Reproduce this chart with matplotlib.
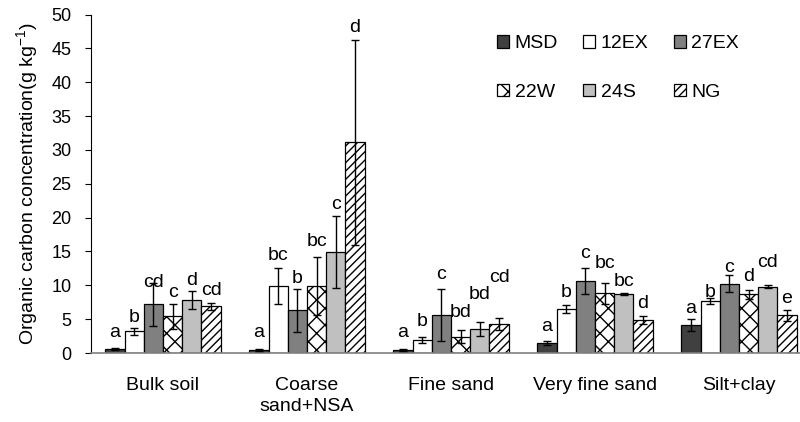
import numpy as np
import matplotlib
matplotlib.use('Agg')
import matplotlib.pyplot as plt

plt.rcParams['font.family'] = ['Liberation Sans', 'DejaVu Sans']
plt.rcParams['mathtext.fontset'] = 'custom'
plt.rcParams['mathtext.rm'] = 'Liberation Sans'
plt.rcParams['mathtext.it'] = 'Liberation Sans:italic'

categories = ['Bulk soil', 'Coarse\nsand+NSA', 'Fine sand', 'Very fine sand', 'Silt+clay']
series = ['MSD', '12EX', '27EX', '22W', '24S', 'NG']

# mean values per series, one entry per category
means = {
    'MSD':  [0.6, 0.5, 0.45, 1.45, 4.1],
    '12EX': [3.2, 9.9, 1.95, 6.5, 7.7],
    '27EX': [7.2, 6.3, 5.6, 10.6, 10.2],
    '22W':  [5.4, 9.9, 2.4, 8.8, 8.7],
    '24S':  [7.8, 14.9, 3.5, 8.7, 9.8],
    'NG':   [6.9, 31.1, 4.3, 4.9, 5.55],
}
errs = {
    'MSD':  [0.1, 0.15, 0.1, 0.3, 0.9],
    '12EX': [0.5, 2.7, 0.4, 0.6, 0.45],
    '27EX': [3.2, 3.2, 3.8, 1.9, 1.25],
    '22W':  [1.8, 4.3, 0.95, 1.5, 0.65],
    '24S':  [1.3, 5.3, 1.05, 0.15, 0.25],
    'NG':   [0.55, 15.2, 0.9, 0.6, 0.8],
}
letters = {
    'MSD':  ['a', 'a', 'a', 'a', 'a'],
    '12EX': ['b', 'bc', 'b', 'b', 'b'],
    '27EX': ['cd', 'b', 'c', 'c', 'c'],
    '22W':  ['c', 'bc', 'bd', 'bc', 'd'],
    '24S':  ['d', 'c', 'bd', 'bc', 'cd'],
    'NG':   ['cd', 'd', 'cd', 'd', 'e'],
}
# baseline height of each significance letter
letter_y = {
    'MSD':  [2.4, 2.4, 2.3, 3.3, 5.9],
    '12EX': [4.6, 13.8, 4.0, 8.3, 8.3],
    '27EX': [9.8, 10.3, 10.9, 14.0, 12.0],
    '22W':  [8.3, 15.8, 5.3, 12.6, 10.6],
    '24S':  [10.0, 21.3, 8.0, 9.9, 12.7],
    'NG':   [8.55, 47.4, 10.5, 6.7, 7.4],
}

colors = ['#404040', 'white', '#808080', 'white', '#c0c0c0', 'white']
hatches = [None, None, None, 'xx', None, '////']

fig = plt.figure(figsize=(8, 4.22), dpi=100)
ax = fig.add_axes([91 / 800, 69 / 422, 720 / 800, 338.5 / 422])

x = np.arange(len(categories))
w = 0.8 / len(series)
handles = []
for i, s in enumerate(series):
    pos = x - 0.4 + w * (i + 0.5)
    b = ax.bar(pos, means[s], w, color=colors[i], edgecolor='black', linewidth=0.9,
               hatch=hatches[i], label=s, zorder=2)
    handles.append(b)
    ax.errorbar(pos, means[s], yerr=errs[s], fmt='none', ecolor='black',
                elinewidth=1, capsize=3, capthick=1, zorder=3)
    for j in range(len(categories)):
        ax.text(pos[j], letter_y[s][j], letters[s][j], ha='center', va='baseline',
                fontsize=14)

ax.set_xlim(-0.5, len(categories) - 0.5)
ax.set_ylim(0, 50)
ax.set_yticks(np.arange(0, 51, 5))
ax.set_xticks(x)
ax.set_xticklabels(categories, fontsize=14, linespacing=1.35)
ax.tick_params(axis='x', length=0, pad=17)
ax.tick_params(axis='y', labelsize=13, direction='out', length=4, pad=10)
ax.spines['top'].set_visible(False)
ax.spines['right'].set_visible(False)
ax.spines['bottom'].set_color('#808080')
ax.spines['bottom'].set_linewidth(1.2)
ax.set_ylabel('Organic carbon concentration(g kg$^{-1}$)', fontsize=14, labelpad=8)

# legend is filled column by column, so reorder to read row by row
order = [0, 3, 1, 4, 2, 5]
ax.legend([handles[k] for k in order], [series[k] for k in order],
          ncol=3, loc='upper left', bbox_to_anchor=(0.54, 0.99), frameon=False,
          fontsize=14, handlelength=0.6, handleheight=0.6, handletextpad=0.3,
          columnspacing=1.3, labelspacing=1.6)

fig.savefig('out.png', dpi=100)
